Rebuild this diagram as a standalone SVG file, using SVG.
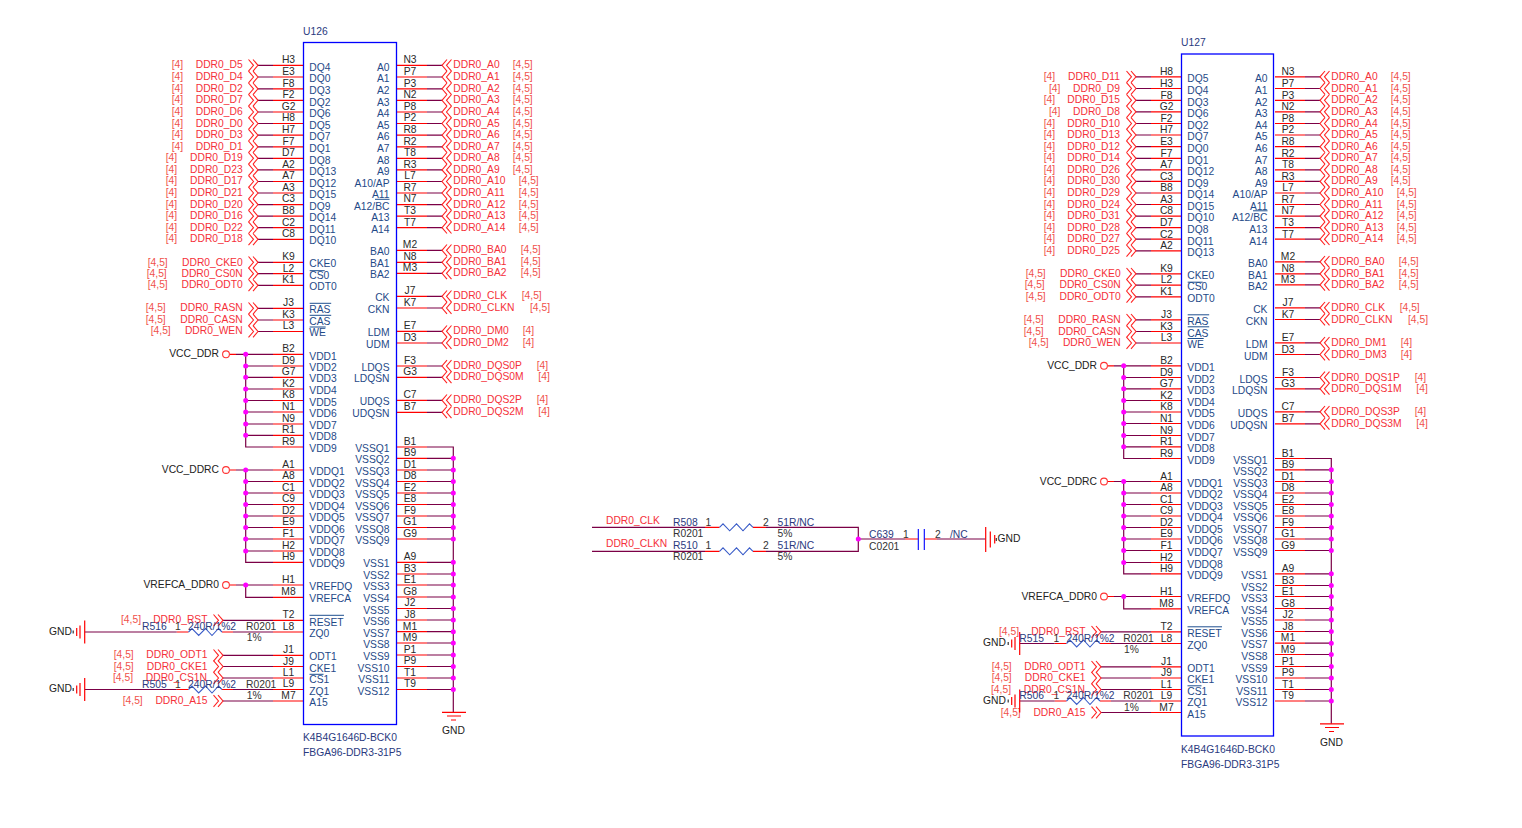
<svg xmlns="http://www.w3.org/2000/svg" width="1522" height="828" viewBox="0 0 1522 828">
<style>
text{font-family:"Liberation Sans",Arial,sans-serif;font-size:10.3px}
.w{fill:none;stroke:#7b0046;stroke-width:1.2}
.p{fill:none;stroke:#f00;stroke-width:1.2}
.box{fill:none;stroke:#00f;stroke-width:1.3}
.bar{fill:none;stroke:#1f4f8f;stroke-width:1}
.n{fill:#2a2a2a;text-anchor:middle}
.m{fill:#1f4a88}
.e{fill:#1f4a88;text-anchor:end}
.k{fill:none;stroke:#f22;stroke-width:1.1}
.a{fill:#f5303a;text-anchor:end}
.s{fill:#f5303a}
.t{fill:#f0504a}
.d{fill:#2a3a80}
.v{fill:#333}
.g{fill:#222}
.ge{fill:#222;text-anchor:end}
.z{fill:none;stroke:#3a5cc8;stroke-width:1.1}
.j{fill:none;stroke:#f0f;stroke-width:5;stroke-linecap:round}
.o{fill:#fff;stroke:#f33;stroke-width:1.1}
</style>
<defs>
<path id="cl" d="M-9.5-5.8L-4.5 0L-9.5 5.8M-5-5.8L0 0L-5 5.8"/>
<path id="cr" d="M9.5-5.8L4.5 0L9.5 5.8M5-5.8L0 0L5 5.8"/>
<path id="rz" d="M0 0L3.5-3.5L10.2 3.5L17-3.5L23.5 3.5L30-3.5L33.5 0"/>
<g id="gs"><path class="p" d="M0-11.5v23M-4.7-6.5v13M-8-4v8"/><path class="w" style="stroke:#333" d="M-11.5-1.5v3"/></g>
<g id="pinwires">
<path class="w" d="M258 65.3h15M258 77h15M258 88.8h15M258 100.3h15M258 112h15M258 123.5h15M258 135.2h15M258 146.8h15M258 158.3h15M258 169.9h15M258 181.5h15M258 193h15M258 204.6h15M258 216.2h15M258 227.7h15M258 239.3h15M258 262.3h15M258 273.7h15M258 285.3h15M258 308.3h15M258 320h15M258 331.5h15"/>
<path class="w" d="M427 65.3h15M427 77h15M427 88.8h15M427 100.3h15M427 112h15M427 123.5h15M427 135.2h15M427 146.8h15M427 158.3h15M427 169.9h15M427 181.5h15M427 193h15M427 204.6h15M427 216.2h15M427 227.7h15M427 250.3h15M427 262.3h15M427 273.3h15M427 296.3h15M427 308h15M427 331.3h15M427 343h15M427 366h15M427 377.3h15M427 400.3h15M427 412.3h15"/>
<path class="w" d="M236 354.3H273M245.7 354.3V447H273M245.7 366H273M245.7 377.3H273M245.7 389H273M245.7 400.5H273M245.7 412H273M245.7 424H273M245.7 435.3H273M236 470H273M245.7 470V562.3H273M245.7 481.5H273M245.7 493H273M245.7 504.5H273M245.7 516H273M245.7 527.5H273M245.7 539H273M245.7 551H273M236 585H273M245.7 585V597.3H273"/>
<path class="w" d="M223 620.3H273M233 632H273M223 655.3H273M223 666.5H273M223 678H273M233 689.5H273M223 701H273"/>
<path class="w" d="M427 447h26.3V712.3M427 458.3h26.3M427 470h26.3M427 481.5h26.3M427 493h26.3M427 504.5h26.3M427 516h26.3M427 527.5h26.3M427 539h26.3M427 562.3h26.3M427 574h26.3M427 585h26.3M427 597h26.3M427 608.5h26.3M427 620h26.3M427 631.7h26.3M427 643h26.3M427 655h26.3M427 666.5h26.3M427 678h26.3M427 689.5h26.3"/>
<path class="p" d="M273 65.3h30M273 77h30M273 88.8h30M273 100.3h30M273 112h30M273 123.5h30M273 135.2h30M273 146.8h30M273 158.3h30M273 169.9h30M273 181.5h30M273 193h30M273 204.6h30M273 216.2h30M273 227.7h30M273 239.3h30M273 262.3h30M273 273.7h30M273 285.3h30M273 308.3h30M273 320h30M273 331.5h30M273 354.3h30M273 366h30M273 377.3h30M273 389h30M273 400.5h30M273 412h30M273 424h30M273 435.3h30M273 447h30M273 470h30M273 481.5h30M273 493h30M273 504.5h30M273 516h30M273 527.5h30M273 539h30M273 551h30M273 562.3h30M273 585h30M273 597.3h30M273 620.3h30M273 632h30M273 655.3h30M273 666.5h30M273 678h30M273 689.5h30M273 701h30"/>
<path class="p" d="M397 65.3h30M397 77h30M397 88.8h30M397 100.3h30M397 112h30M397 123.5h30M397 135.2h30M397 146.8h30M397 158.3h30M397 169.9h30M397 181.5h30M397 193h30M397 204.6h30M397 216.2h30M397 227.7h30M397 250.3h30M397 262.3h30M397 273.3h30M397 296.3h30M397 308h30M397 331.3h30M397 343h30M397 366h30M397 377.3h30M397 400.3h30M397 412.3h30M397 447h30M397 458.3h30M397 470h30M397 481.5h30M397 493h30M397 504.5h30M397 516h30M397 527.5h30M397 539h30M397 562.3h30M397 574h30M397 585h30M397 597h30M397 608.5h30M397 620h30M397 631.7h30M397 643h30M397 655h30M397 666.5h30M397 678h30M397 689.5h30"/>
<path class="p" d="M229.4 354.3H236M229.4 470H236M229.4 585H236M176.7 632h11.8M222 632h11M176.7 689.5h11.8M222 689.5h11"/>
<path class="j" d="M245.7 354.3h0M245.7 366h0M245.7 377.3h0M245.7 389h0M245.7 400.5h0M245.7 412h0M245.7 424h0M245.7 435.3h0M245.7 470h0M245.7 481.5h0M245.7 493h0M245.7 504.5h0M245.7 516h0M245.7 527.5h0M245.7 539h0M245.7 551h0M245.7 585h0M453.3 458.3h0M453.3 470h0M453.3 481.5h0M453.3 493h0M453.3 504.5h0M453.3 516h0M453.3 527.5h0M453.3 539h0M453.3 562.3h0M453.3 574h0M453.3 585h0M453.3 597h0M453.3 608.5h0M453.3 620h0M453.3 631.7h0M453.3 643h0M453.3 655h0M453.3 666.5h0M453.3 678h0M453.3 689.5h0"/>
</g>
</defs>
<g id="connectors">
<use href="#pinwires"/>
<use href="#pinwires" x="878" y="11.5"/>
<path class="w" d="M84.7 632H176.7M84.7 689.5H176.7M1019.7 643.5H1054.7M1019.7 701H1054.7"/>
<path class="w" d="M592 527.3H705M592 551.3H705M766 527.3H858.3V551.3H766M858.3 539H905M937 539H985.7"/>
<path class="p" d="M705 527.3h14.5M705 551.3h14.5M753 527.3h13M753 551.3h13M905 539h13.3M924.3 539h12.7"/>
<path class="j" d="M858.3 539h0"/>
</g>

<g id="U126">
<rect class="box" x="303.5" y="42.5" width="93" height="682"/>
<text class="d" x="303" y="35">U126</text>
<text class="d" x="303" y="741">K4B4G1646D-BCK0</text>
<text class="d" x="303" y="756">FBGA96-DDR3-31P5</text>
<path class="bar" d="M309.7 270.7h15M309.7 303.3h21.5M309.7 315.3h21.5M309.7 327h16M309.5 615.3h34.5M309.5 674.3h14M375 199.3h14.5"/>
<text class="n" x="288.5" y="63">H3</text><text class="m" x="309.3" y="70.5">DQ4</text>
<text class="n" x="288.5" y="75">E3</text><text class="m" x="309.3" y="82">DQ0</text>
<text class="n" x="288.5" y="87">F8</text><text class="m" x="309.3" y="94">DQ3</text>
<text class="n" x="288.5" y="98">F2</text><text class="m" x="309.3" y="105.5">DQ2</text>
<text class="n" x="288.5" y="110">G2</text><text class="m" x="309.3" y="117">DQ6</text>
<text class="n" x="288.5" y="121">H8</text><text class="m" x="309.3" y="128.5">DQ5</text>
<text class="n" x="288.5" y="133">H7</text><text class="m" x="309.3" y="140">DQ7</text>
<text class="n" x="288.5" y="145">F7</text><text class="m" x="309.3" y="152">DQ1</text>
<text class="n" x="288.5" y="156">D7</text><text class="m" x="309.3" y="163.5">DQ8</text>
<text class="n" x="288.5" y="168">A2</text><text class="m" x="309.3" y="175">DQ13</text>
<text class="n" x="288.5" y="179">A7</text><text class="m" x="309.3" y="186.5">DQ12</text>
<text class="n" x="288.5" y="191">A3</text><text class="m" x="309.3" y="198">DQ15</text>
<text class="n" x="288.5" y="202">C3</text><text class="m" x="309.3" y="209.5">DQ9</text>
<text class="n" x="288.5" y="214">B8</text><text class="m" x="309.3" y="221">DQ14</text>
<text class="n" x="288.5" y="226">C2</text><text class="m" x="309.3" y="233">DQ11</text>
<text class="n" x="288.5" y="237">C8</text><text class="m" x="309.3" y="244">DQ10</text>
<text class="n" x="288.5" y="260">K9</text><text class="m" x="309.3" y="267">CKE0</text>
<text class="n" x="288.5" y="271.5">L2</text><text class="m" x="309.3" y="278.5">CS0</text>
<text class="n" x="288.5" y="283">K1</text><text class="m" x="309.3" y="290">ODT0</text>
<text class="n" x="288.5" y="306">J3</text><text class="m" x="309.3" y="313">RAS</text>
<text class="n" x="288.5" y="318">K3</text><text class="m" x="309.3" y="325">CAS</text>
<text class="n" x="288.5" y="329">L3</text><text class="m" x="309.3" y="336">WE</text>
<text class="n" x="288.5" y="352">B2</text><text class="m" x="309.3" y="359.5">VDD1</text>
<text class="n" x="288.5" y="364">D9</text><text class="m" x="309.3" y="371">VDD2</text>
<text class="n" x="288.5" y="375">G7</text><text class="m" x="309.3" y="382">VDD3</text>
<text class="n" x="288.5" y="387">K2</text><text class="m" x="309.3" y="394">VDD4</text>
<text class="n" x="288.5" y="398">K8</text><text class="m" x="309.3" y="405.5">VDD5</text>
<text class="n" x="288.5" y="410">N1</text><text class="m" x="309.3" y="417">VDD6</text>
<text class="n" x="288.5" y="422">N9</text><text class="m" x="309.3" y="429">VDD7</text>
<text class="n" x="288.5" y="433">R1</text><text class="m" x="309.3" y="440">VDD8</text>
<text class="n" x="288.5" y="445">R9</text><text class="m" x="309.3" y="452">VDD9</text>
<text class="n" x="288.5" y="468">A1</text><text class="m" x="309.3" y="475">VDDQ1</text>
<text class="n" x="288.5" y="479.3">A8</text><text class="m" x="309.3" y="486.5">VDDQ2</text>
<text class="n" x="288.5" y="491">C1</text><text class="m" x="309.3" y="498">VDDQ3</text>
<text class="n" x="288.5" y="502.3">C9</text><text class="m" x="309.3" y="509.5">VDDQ4</text>
<text class="n" x="288.5" y="514">D2</text><text class="m" x="309.3" y="521">VDDQ5</text>
<text class="n" x="288.5" y="525.3">E9</text><text class="m" x="309.3" y="532.5">VDDQ6</text>
<text class="n" x="288.5" y="537">F1</text><text class="m" x="309.3" y="544">VDDQ7</text>
<text class="n" x="288.5" y="549">H2</text><text class="m" x="309.3" y="556">VDDQ8</text>
<text class="n" x="288.5" y="560">H9</text><text class="m" x="309.3" y="567">VDDQ9</text>
<text class="n" x="288.5" y="583">H1</text><text class="m" x="309.3" y="590">VREFDQ</text>
<text class="n" x="288.5" y="595">M8</text><text class="m" x="309.3" y="602">VREFCA</text>
<text class="n" x="288.5" y="618">T2</text><text class="m" x="309.3" y="625.5">RESET</text>
<text class="n" x="288.5" y="630">L8</text><text class="m" x="309.3" y="637">ZQ0</text>
<text class="n" x="288.5" y="653">J1</text><text class="m" x="309.3" y="660">ODT1</text>
<text class="n" x="288.5" y="664.5">J9</text><text class="m" x="309.3" y="671.5">CKE1</text>
<text class="n" x="288.5" y="676">L1</text><text class="m" x="309.3" y="683">CS1</text>
<text class="n" x="288.5" y="687">L9</text><text class="m" x="309.3" y="694.5">ZQ1</text>
<text class="n" x="288.5" y="699">M7</text><text class="m" x="309.3" y="706">A15</text>
<text class="n" x="410" y="63">N3</text><text class="e" x="389.5" y="70.5">A0</text>
<text class="n" x="410" y="75">P7</text><text class="e" x="389.5" y="82">A1</text>
<text class="n" x="410" y="87">P3</text><text class="e" x="389.5" y="94">A2</text>
<text class="n" x="410" y="98">N2</text><text class="e" x="389.5" y="105.5">A3</text>
<text class="n" x="410" y="110">P8</text><text class="e" x="389.5" y="117">A4</text>
<text class="n" x="410" y="121">P2</text><text class="e" x="389.5" y="128.5">A5</text>
<text class="n" x="410" y="133">R8</text><text class="e" x="389.5" y="140">A6</text>
<text class="n" x="410" y="145">R2</text><text class="e" x="389.5" y="152">A7</text>
<text class="n" x="410" y="156">T8</text><text class="e" x="389.5" y="163.5">A8</text>
<text class="n" x="410" y="168">R3</text><text class="e" x="389.5" y="175">A9</text>
<text class="n" x="410" y="179">L7</text><text class="e" x="389.5" y="186.5">A10/AP</text>
<text class="n" x="410" y="191">R7</text><text class="e" x="389.5" y="198">A11</text>
<text class="n" x="410" y="202">N7</text><text class="e" x="389.5" y="209.5">A12/BC</text>
<text class="n" x="410" y="214">T3</text><text class="e" x="389.5" y="221">A13</text>
<text class="n" x="410" y="226">T7</text><text class="e" x="389.5" y="233">A14</text>
<text class="n" x="410" y="248">M2</text><text class="e" x="389.5" y="255">BA0</text>
<text class="n" x="410" y="260">N8</text><text class="e" x="389.5" y="267">BA1</text>
<text class="n" x="410" y="271">M3</text><text class="e" x="389.5" y="278">BA2</text>
<text class="n" x="410" y="294">J7</text><text class="e" x="389.5" y="301">CK</text>
<text class="n" x="410" y="306">K7</text><text class="e" x="389.5" y="313">CKN</text>
<text class="n" x="410" y="329">E7</text><text class="e" x="389.5" y="336">LDM</text>
<text class="n" x="410" y="341">D3</text><text class="e" x="389.5" y="348">UDM</text>
<text class="n" x="410" y="364">F3</text><text class="e" x="389.5" y="371">LDQS</text>
<text class="n" x="410" y="375">G3</text><text class="e" x="389.5" y="382">LDQSN</text>
<text class="n" x="410" y="398">C7</text><text class="e" x="389.5" y="405">UDQS</text>
<text class="n" x="410" y="410">B7</text><text class="e" x="389.5" y="417">UDQSN</text>
<text class="n" x="410" y="445">B1</text><text class="e" x="389.5" y="452">VSSQ1</text>
<text class="n" x="410" y="456">B9</text><text class="e" x="389.5" y="463.3">VSSQ2</text>
<text class="n" x="410" y="468">D1</text><text class="e" x="389.5" y="475">VSSQ3</text>
<text class="n" x="410" y="479.3">D8</text><text class="e" x="389.5" y="486.5">VSSQ4</text>
<text class="n" x="410" y="491">E2</text><text class="e" x="389.5" y="498">VSSQ5</text>
<text class="n" x="410" y="502.3">E8</text><text class="e" x="389.5" y="509.5">VSSQ6</text>
<text class="n" x="410" y="514">F9</text><text class="e" x="389.5" y="521">VSSQ7</text>
<text class="n" x="410" y="525.3">G1</text><text class="e" x="389.5" y="532.5">VSSQ8</text>
<text class="n" x="410" y="537">G9</text><text class="e" x="389.5" y="544">VSSQ9</text>
<text class="n" x="410" y="560">A9</text><text class="e" x="389.5" y="567">VSS1</text>
<text class="n" x="410" y="572">B3</text><text class="e" x="389.5" y="579">VSS2</text>
<text class="n" x="410" y="583">E1</text><text class="e" x="389.5" y="590">VSS3</text>
<text class="n" x="410" y="595">G8</text><text class="e" x="389.5" y="602">VSS4</text>
<text class="n" x="410" y="606">J2</text><text class="e" x="389.5" y="613.5">VSS5</text>
<text class="n" x="410" y="618">J8</text><text class="e" x="389.5" y="625">VSS6</text>
<text class="n" x="410" y="629.5">M1</text><text class="e" x="389.5" y="636.5">VSS7</text>
<text class="n" x="410" y="641">M9</text><text class="e" x="389.5" y="648">VSS8</text>
<text class="n" x="410" y="653">P1</text><text class="e" x="389.5" y="660">VSS9</text>
<text class="n" x="410" y="664.3">P9</text><text class="e" x="389.5" y="671.5">VSS10</text>
<text class="n" x="410" y="676">T1</text><text class="e" x="389.5" y="683">VSS11</text>
<text class="n" x="410" y="687.3">T9</text><text class="e" x="389.5" y="694.5">VSS12</text>
</g>

<g id="nets-U126">
<g id="A_D5"><use class="k" href="#cl" x="258" y="65.3"/><text class="a" x="242.7" y="68">DDR0_D5</text><text class="t" x="171.7" y="68">[4]</text></g>
<g id="A_D4"><use class="k" href="#cl" x="258" y="77"/><text class="a" x="242.7" y="80">DDR0_D4</text><text class="t" x="171.7" y="80">[4]</text></g>
<g id="A_D2"><use class="k" href="#cl" x="258" y="88.8"/><text class="a" x="242.7" y="91.5">DDR0_D2</text><text class="t" x="171.7" y="91.5">[4]</text></g>
<g id="A_D7"><use class="k" href="#cl" x="258" y="100.3"/><text class="a" x="242.7" y="103">DDR0_D7</text><text class="t" x="171.7" y="103">[4]</text></g>
<g id="A_D6"><use class="k" href="#cl" x="258" y="112"/><text class="a" x="242.7" y="115">DDR0_D6</text><text class="t" x="171.7" y="115">[4]</text></g>
<g id="A_D0"><use class="k" href="#cl" x="258" y="123.5"/><text class="a" x="242.7" y="126.5">DDR0_D0</text><text class="t" x="171.7" y="126.5">[4]</text></g>
<g id="A_D3"><use class="k" href="#cl" x="258" y="135.2"/><text class="a" x="242.7" y="138">DDR0_D3</text><text class="t" x="171.7" y="138">[4]</text></g>
<g id="A_D1"><use class="k" href="#cl" x="258" y="146.8"/><text class="a" x="242.7" y="149.5">DDR0_D1</text><text class="t" x="171.7" y="149.5">[4]</text></g>
<g id="A_D19"><use class="k" href="#cl" x="258" y="158.3"/><text class="a" x="242.7" y="161">DDR0_D19</text><text class="t" x="165.7" y="161">[4]</text></g>
<g id="A_D23"><use class="k" href="#cl" x="258" y="169.9"/><text class="a" x="242.7" y="172.5">DDR0_D23</text><text class="t" x="165.7" y="172.5">[4]</text></g>
<g id="A_D17"><use class="k" href="#cl" x="258" y="181.5"/><text class="a" x="242.7" y="184">DDR0_D17</text><text class="t" x="165.7" y="184">[4]</text></g>
<g id="A_D21"><use class="k" href="#cl" x="258" y="193"/><text class="a" x="242.7" y="196">DDR0_D21</text><text class="t" x="165.7" y="196">[4]</text></g>
<g id="A_D20"><use class="k" href="#cl" x="258" y="204.6"/><text class="a" x="242.7" y="207.5">DDR0_D20</text><text class="t" x="165.7" y="207.5">[4]</text></g>
<g id="A_D16"><use class="k" href="#cl" x="258" y="216.2"/><text class="a" x="242.7" y="219">DDR0_D16</text><text class="t" x="165.7" y="219">[4]</text></g>
<g id="A_D22"><use class="k" href="#cl" x="258" y="227.7"/><text class="a" x="242.7" y="230.5">DDR0_D22</text><text class="t" x="165.7" y="230.5">[4]</text></g>
<g id="A_D18"><use class="k" href="#cl" x="258" y="239.3"/><text class="a" x="242.7" y="242">DDR0_D18</text><text class="t" x="165.7" y="242">[4]</text></g>
<g id="A_CKE0"><use class="k" href="#cl" x="258" y="262.3"/><text class="a" x="242.7" y="265.5">DDR0_CKE0</text><text class="t" x="147.7" y="265.5">[4,5]</text></g>
<g id="A_CS0N"><use class="k" href="#cl" x="258" y="273.7"/><text class="a" x="242.7" y="276.5">DDR0_CS0N</text><text class="t" x="146.7" y="276.5">[4,5]</text></g>
<g id="A_ODT0"><use class="k" href="#cl" x="258" y="285.3"/><text class="a" x="242.7" y="288">DDR0_ODT0</text><text class="t" x="147.7" y="288">[4,5]</text></g>
<g id="A_RASN"><use class="k" href="#cl" x="258" y="308.3"/><text class="a" x="242.7" y="311">DDR0_RASN</text><text class="t" x="145.7" y="311">[4,5]</text></g>
<g id="A_CASN"><use class="k" href="#cl" x="258" y="320"/><text class="a" x="242.7" y="323">DDR0_CASN</text><text class="t" x="145.7" y="323">[4,5]</text></g>
<g id="A_WEN"><use class="k" href="#cl" x="258" y="331.5"/><text class="a" x="242.7" y="334">DDR0_WEN</text><text class="t" x="150.7" y="334">[4,5]</text></g>
<g id="A_RST"><use class="k" href="#cl" x="223" y="620.3"/><text class="a" x="207.5" y="623">DDR0_RST</text><text class="t" x="121" y="623">[4,5]</text></g>
<g id="A_ODT1"><use class="k" href="#cl" x="223" y="655.3"/><text class="a" x="207.5" y="658">DDR0_ODT1</text><text class="t" x="113.7" y="658">[4,5]</text></g>
<g id="A_CKE1"><use class="k" href="#cl" x="223" y="666.5"/><text class="a" x="207.5" y="669.5">DDR0_CKE1</text><text class="t" x="113.7" y="669.5">[4,5]</text></g>
<g id="A_CS1N"><use class="k" href="#cl" x="223" y="678"/><text class="a" x="207" y="681">DDR0_CS1N</text><text class="t" x="113" y="681">[4,5]</text></g>
<g id="A_A15"><use class="k" href="#cl" x="223" y="701"/><text class="a" x="207.5" y="704">DDR0_A15</text><text class="t" x="122.7" y="704">[4,5]</text></g>
<g id="A_A0"><use class="k" href="#cr" x="442" y="65.3"/><text class="s" x="453.3" y="68">DDR0_A0</text><text class="t" x="512.7" y="68">[4,5]</text></g>
<g id="A_A1"><use class="k" href="#cr" x="442" y="77"/><text class="s" x="453.3" y="80">DDR0_A1</text><text class="t" x="512.7" y="80">[4,5]</text></g>
<g id="A_A2"><use class="k" href="#cr" x="442" y="88.8"/><text class="s" x="453.3" y="91.5">DDR0_A2</text><text class="t" x="512.7" y="91.5">[4,5]</text></g>
<g id="A_A3"><use class="k" href="#cr" x="442" y="100.3"/><text class="s" x="453.3" y="103">DDR0_A3</text><text class="t" x="512.7" y="103">[4,5]</text></g>
<g id="A_A4"><use class="k" href="#cr" x="442" y="112"/><text class="s" x="453.3" y="115">DDR0_A4</text><text class="t" x="512.7" y="115">[4,5]</text></g>
<g id="A_A5"><use class="k" href="#cr" x="442" y="123.5"/><text class="s" x="453.3" y="126.5">DDR0_A5</text><text class="t" x="512.7" y="126.5">[4,5]</text></g>
<g id="A_A6"><use class="k" href="#cr" x="442" y="135.2"/><text class="s" x="453.3" y="138">DDR0_A6</text><text class="t" x="512.7" y="138">[4,5]</text></g>
<g id="A_A7"><use class="k" href="#cr" x="442" y="146.8"/><text class="s" x="453.3" y="149.5">DDR0_A7</text><text class="t" x="512.7" y="149.5">[4,5]</text></g>
<g id="A_A8"><use class="k" href="#cr" x="442" y="158.3"/><text class="s" x="453.3" y="161">DDR0_A8</text><text class="t" x="512.7" y="161">[4,5]</text></g>
<g id="A_A9"><use class="k" href="#cr" x="442" y="169.9"/><text class="s" x="453.3" y="172.5">DDR0_A9</text><text class="t" x="512.7" y="172.5">[4,5]</text></g>
<g id="A_A10"><use class="k" href="#cr" x="442" y="181.5"/><text class="s" x="453.3" y="184">DDR0_A10</text><text class="t" x="518.7" y="184">[4,5]</text></g>
<g id="A_A11"><use class="k" href="#cr" x="442" y="193"/><text class="s" x="453.3" y="196">DDR0_A11</text><text class="t" x="518.7" y="196">[4,5]</text></g>
<g id="A_A12"><use class="k" href="#cr" x="442" y="204.6"/><text class="s" x="453.3" y="207.5">DDR0_A12</text><text class="t" x="518.7" y="207.5">[4,5]</text></g>
<g id="A_A13"><use class="k" href="#cr" x="442" y="216.2"/><text class="s" x="453.3" y="219">DDR0_A13</text><text class="t" x="518.7" y="219">[4,5]</text></g>
<g id="A_A14"><use class="k" href="#cr" x="442" y="227.7"/><text class="s" x="453.3" y="230.5">DDR0_A14</text><text class="t" x="518.7" y="230.5">[4,5]</text></g>
<g id="A_BA0"><use class="k" href="#cr" x="442" y="250.3"/><text class="s" x="453.3" y="253">DDR0_BA0</text><text class="t" x="520.7" y="253">[4,5]</text></g>
<g id="A_BA1"><use class="k" href="#cr" x="442" y="262.3"/><text class="s" x="453.3" y="265">DDR0_BA1</text><text class="t" x="520.7" y="265">[4,5]</text></g>
<g id="A_BA2"><use class="k" href="#cr" x="442" y="273.3"/><text class="s" x="453.3" y="276">DDR0_BA2</text><text class="t" x="520.7" y="276">[4,5]</text></g>
<g id="A_CLK"><use class="k" href="#cr" x="442" y="296.3"/><text class="s" x="453.3" y="299">DDR0_CLK</text><text class="t" x="521.7" y="299">[4,5]</text></g>
<g id="A_CLKN"><use class="k" href="#cr" x="442" y="308"/><text class="s" x="453.3" y="311">DDR0_CLKN</text><text class="t" x="530" y="311">[4,5]</text></g>
<g id="A_DM0"><use class="k" href="#cr" x="442" y="331.3"/><text class="s" x="453.3" y="334">DDR0_DM0</text><text class="t" x="522.7" y="334">[4]</text></g>
<g id="A_DM2"><use class="k" href="#cr" x="442" y="343"/><text class="s" x="453.3" y="346">DDR0_DM2</text><text class="t" x="522.7" y="346">[4]</text></g>
<g id="A_DQS0P"><use class="k" href="#cr" x="442" y="366"/><text class="s" x="453.3" y="369">DDR0_DQS0P</text><text class="t" x="536.7" y="369">[4]</text></g>
<g id="A_DQS0M"><use class="k" href="#cr" x="442" y="377.3"/><text class="s" x="453.3" y="380">DDR0_DQS0M</text><text class="t" x="538.3" y="380">[4]</text></g>
<g id="A_DQS2P"><use class="k" href="#cr" x="442" y="400.3"/><text class="s" x="453.3" y="403">DDR0_DQS2P</text><text class="t" x="536.7" y="403">[4]</text></g>
<g id="A_DQS2M"><use class="k" href="#cr" x="442" y="412.3"/><text class="s" x="453.3" y="415">DDR0_DQS2M</text><text class="t" x="538.3" y="415">[4]</text></g>
<g id="A_VCC_DDR"><circle class="o" cx="226" cy="354.3" r="3.4"/><text class="ge" x="219" y="357">VCC_DDR</text></g>
<g id="A_VCC_DDRC"><circle class="o" cx="226" cy="470" r="3.4"/><text class="ge" x="219" y="473">VCC_DDRC</text></g>
<g id="A_VREFCA"><circle class="o" cx="226" cy="585" r="3.4"/><text class="ge" x="219" y="588">VREFCA_DDR0</text></g>
<g id="A_GND3"><path class="p" d="M442 712.3h24M447 716h14M451 720h5"/><text class="g" x="442" y="734">GND</text></g>
<g id="A_GND1"><use href="#gs" x="84.7" y="632"/><text class="ge" x="72" y="634.5">GND</text></g>
<g id="A_GND2"><use href="#gs" x="84.7" y="689.5"/><text class="ge" x="72" y="692">GND</text></g>
<g id="R516"><use class="z" href="#rz" x="188.5" y="632"/><text class="d" x="142" y="630">R516</text><text class="v" x="175" y="630">1</text><text class="d" x="188" y="630">240R/1%2</text><text class="v" x="246" y="630">R0201</text><text class="v" x="246.7" y="641">1%</text></g>
<g id="R505"><use class="z" href="#rz" x="188.5" y="689.5"/><text class="d" x="142" y="687.5">R505</text><text class="v" x="175" y="687.5">1</text><text class="d" x="188" y="687.5">240R/1%2</text><text class="v" x="246" y="687.5">R0201</text><text class="v" x="246.7" y="699">1%</text></g>
</g>

<g id="U127-side" transform="translate(878 11.5)">
<g id="U127">
<rect class="box" x="303.5" y="42.5" width="92" height="682"/>
<text class="d" x="303" y="34.5">U127</text>
<text class="d" x="303" y="741">K4B4G1646D-BCK0</text>
<text class="d" x="303" y="756">FBGA96-DDR3-31P5</text>
<path class="bar" d="M309.7 270.7h15M309.7 303.3h21.5M309.7 315.3h21.5M309.7 327h16M309.5 615.3h34.5M309.5 674.3h14M375 199.3h14.5"/>
<text class="n" x="288.5" y="63">H8</text><text class="m" x="309.3" y="70.5">DQ5</text>
<text class="n" x="288.5" y="75">H3</text><text class="m" x="309.3" y="82">DQ4</text>
<text class="n" x="288.5" y="87">F8</text><text class="m" x="309.3" y="94">DQ3</text>
<text class="n" x="288.5" y="98">G2</text><text class="m" x="309.3" y="105.5">DQ6</text>
<text class="n" x="288.5" y="110">F2</text><text class="m" x="309.3" y="117">DQ2</text>
<text class="n" x="288.5" y="121">H7</text><text class="m" x="309.3" y="128.5">DQ7</text>
<text class="n" x="288.5" y="133">E3</text><text class="m" x="309.3" y="140">DQ0</text>
<text class="n" x="288.5" y="145">F7</text><text class="m" x="309.3" y="152">DQ1</text>
<text class="n" x="288.5" y="156">A7</text><text class="m" x="309.3" y="163.5">DQ12</text>
<text class="n" x="288.5" y="168">C3</text><text class="m" x="309.3" y="175">DQ9</text>
<text class="n" x="288.5" y="179">B8</text><text class="m" x="309.3" y="186.5">DQ14</text>
<text class="n" x="288.5" y="191">A3</text><text class="m" x="309.3" y="198">DQ15</text>
<text class="n" x="288.5" y="202">C8</text><text class="m" x="309.3" y="209.5">DQ10</text>
<text class="n" x="288.5" y="214">D7</text><text class="m" x="309.3" y="221">DQ8</text>
<text class="n" x="288.5" y="226">C2</text><text class="m" x="309.3" y="233">DQ11</text>
<text class="n" x="288.5" y="237">A2</text><text class="m" x="309.3" y="244">DQ13</text>
<text class="n" x="288.5" y="260">K9</text><text class="m" x="309.3" y="267">CKE0</text>
<text class="n" x="288.5" y="271.5">L2</text><text class="m" x="309.3" y="278.5">CS0</text>
<text class="n" x="288.5" y="283">K1</text><text class="m" x="309.3" y="290">ODT0</text>
<text class="n" x="288.5" y="306">J3</text><text class="m" x="309.3" y="313">RAS</text>
<text class="n" x="288.5" y="318">K3</text><text class="m" x="309.3" y="325">CAS</text>
<text class="n" x="288.5" y="329">L3</text><text class="m" x="309.3" y="336">WE</text>
<text class="n" x="288.5" y="352">B2</text><text class="m" x="309.3" y="359.5">VDD1</text>
<text class="n" x="288.5" y="364">D9</text><text class="m" x="309.3" y="371">VDD2</text>
<text class="n" x="288.5" y="375">G7</text><text class="m" x="309.3" y="382">VDD3</text>
<text class="n" x="288.5" y="387">K2</text><text class="m" x="309.3" y="394">VDD4</text>
<text class="n" x="288.5" y="398">K8</text><text class="m" x="309.3" y="405.5">VDD5</text>
<text class="n" x="288.5" y="410">N1</text><text class="m" x="309.3" y="417">VDD6</text>
<text class="n" x="288.5" y="422">N9</text><text class="m" x="309.3" y="429">VDD7</text>
<text class="n" x="288.5" y="433">R1</text><text class="m" x="309.3" y="440">VDD8</text>
<text class="n" x="288.5" y="445">R9</text><text class="m" x="309.3" y="452">VDD9</text>
<text class="n" x="288.5" y="468">A1</text><text class="m" x="309.3" y="475">VDDQ1</text>
<text class="n" x="288.5" y="479.3">A8</text><text class="m" x="309.3" y="486.5">VDDQ2</text>
<text class="n" x="288.5" y="491">C1</text><text class="m" x="309.3" y="498">VDDQ3</text>
<text class="n" x="288.5" y="502.3">C9</text><text class="m" x="309.3" y="509.5">VDDQ4</text>
<text class="n" x="288.5" y="514">D2</text><text class="m" x="309.3" y="521">VDDQ5</text>
<text class="n" x="288.5" y="525.3">E9</text><text class="m" x="309.3" y="532.5">VDDQ6</text>
<text class="n" x="288.5" y="537">F1</text><text class="m" x="309.3" y="544">VDDQ7</text>
<text class="n" x="288.5" y="549">H2</text><text class="m" x="309.3" y="556">VDDQ8</text>
<text class="n" x="288.5" y="560">H9</text><text class="m" x="309.3" y="567">VDDQ9</text>
<text class="n" x="288.5" y="583">H1</text><text class="m" x="309.3" y="590">VREFDQ</text>
<text class="n" x="288.5" y="595">M8</text><text class="m" x="309.3" y="602">VREFCA</text>
<text class="n" x="288.5" y="618">T2</text><text class="m" x="309.3" y="625.5">RESET</text>
<text class="n" x="288.5" y="630">L8</text><text class="m" x="309.3" y="637">ZQ0</text>
<text class="n" x="288.5" y="653">J1</text><text class="m" x="309.3" y="660">ODT1</text>
<text class="n" x="288.5" y="664.5">J9</text><text class="m" x="309.3" y="671.5">CKE1</text>
<text class="n" x="288.5" y="676">L1</text><text class="m" x="309.3" y="683">CS1</text>
<text class="n" x="288.5" y="687">L9</text><text class="m" x="309.3" y="694.5">ZQ1</text>
<text class="n" x="288.5" y="699">M7</text><text class="m" x="309.3" y="706">A15</text>
<text class="n" x="410" y="63">N3</text><text class="e" x="389.5" y="70.5">A0</text>
<text class="n" x="410" y="75">P7</text><text class="e" x="389.5" y="82">A1</text>
<text class="n" x="410" y="87">P3</text><text class="e" x="389.5" y="94">A2</text>
<text class="n" x="410" y="98">N2</text><text class="e" x="389.5" y="105.5">A3</text>
<text class="n" x="410" y="110">P8</text><text class="e" x="389.5" y="117">A4</text>
<text class="n" x="410" y="121">P2</text><text class="e" x="389.5" y="128.5">A5</text>
<text class="n" x="410" y="133">R8</text><text class="e" x="389.5" y="140">A6</text>
<text class="n" x="410" y="145">R2</text><text class="e" x="389.5" y="152">A7</text>
<text class="n" x="410" y="156">T8</text><text class="e" x="389.5" y="163.5">A8</text>
<text class="n" x="410" y="168">R3</text><text class="e" x="389.5" y="175">A9</text>
<text class="n" x="410" y="179">L7</text><text class="e" x="389.5" y="186.5">A10/AP</text>
<text class="n" x="410" y="191">R7</text><text class="e" x="389.5" y="198">A11</text>
<text class="n" x="410" y="202">N7</text><text class="e" x="389.5" y="209.5">A12/BC</text>
<text class="n" x="410" y="214">T3</text><text class="e" x="389.5" y="221">A13</text>
<text class="n" x="410" y="226">T7</text><text class="e" x="389.5" y="233">A14</text>
<text class="n" x="410" y="248">M2</text><text class="e" x="389.5" y="255">BA0</text>
<text class="n" x="410" y="260">N8</text><text class="e" x="389.5" y="267">BA1</text>
<text class="n" x="410" y="271">M3</text><text class="e" x="389.5" y="278">BA2</text>
<text class="n" x="410" y="294">J7</text><text class="e" x="389.5" y="301">CK</text>
<text class="n" x="410" y="306">K7</text><text class="e" x="389.5" y="313">CKN</text>
<text class="n" x="410" y="329">E7</text><text class="e" x="389.5" y="336">LDM</text>
<text class="n" x="410" y="341">D3</text><text class="e" x="389.5" y="348">UDM</text>
<text class="n" x="410" y="364">F3</text><text class="e" x="389.5" y="371">LDQS</text>
<text class="n" x="410" y="375">G3</text><text class="e" x="389.5" y="382">LDQSN</text>
<text class="n" x="410" y="398">C7</text><text class="e" x="389.5" y="405">UDQS</text>
<text class="n" x="410" y="410">B7</text><text class="e" x="389.5" y="417">UDQSN</text>
<text class="n" x="410" y="445">B1</text><text class="e" x="389.5" y="452">VSSQ1</text>
<text class="n" x="410" y="456">B9</text><text class="e" x="389.5" y="463.3">VSSQ2</text>
<text class="n" x="410" y="468">D1</text><text class="e" x="389.5" y="475">VSSQ3</text>
<text class="n" x="410" y="479.3">D8</text><text class="e" x="389.5" y="486.5">VSSQ4</text>
<text class="n" x="410" y="491">E2</text><text class="e" x="389.5" y="498">VSSQ5</text>
<text class="n" x="410" y="502.3">E8</text><text class="e" x="389.5" y="509.5">VSSQ6</text>
<text class="n" x="410" y="514">F9</text><text class="e" x="389.5" y="521">VSSQ7</text>
<text class="n" x="410" y="525.3">G1</text><text class="e" x="389.5" y="532.5">VSSQ8</text>
<text class="n" x="410" y="537">G9</text><text class="e" x="389.5" y="544">VSSQ9</text>
<text class="n" x="410" y="560">A9</text><text class="e" x="389.5" y="567">VSS1</text>
<text class="n" x="410" y="572">B3</text><text class="e" x="389.5" y="579">VSS2</text>
<text class="n" x="410" y="583">E1</text><text class="e" x="389.5" y="590">VSS3</text>
<text class="n" x="410" y="595">G8</text><text class="e" x="389.5" y="602">VSS4</text>
<text class="n" x="410" y="606">J2</text><text class="e" x="389.5" y="613.5">VSS5</text>
<text class="n" x="410" y="618">J8</text><text class="e" x="389.5" y="625">VSS6</text>
<text class="n" x="410" y="629.5">M1</text><text class="e" x="389.5" y="636.5">VSS7</text>
<text class="n" x="410" y="641">M9</text><text class="e" x="389.5" y="648">VSS8</text>
<text class="n" x="410" y="653">P1</text><text class="e" x="389.5" y="660">VSS9</text>
<text class="n" x="410" y="664.3">P9</text><text class="e" x="389.5" y="671.5">VSS10</text>
<text class="n" x="410" y="676">T1</text><text class="e" x="389.5" y="683">VSS11</text>
<text class="n" x="410" y="687.3">T9</text><text class="e" x="389.5" y="694.5">VSS12</text>
</g>
<g id="nets-U127">
<g id="B_D11"><use class="k" href="#cl" x="258" y="65.3"/><text class="a" x="242" y="68">DDR0_D11</text><text class="t" x="165.7" y="68">[4]</text></g>
<g id="B_D9"><use class="k" href="#cl" x="258" y="77"/><text class="a" x="242" y="80">DDR0_D9</text><text class="t" x="171" y="80">[4]</text></g>
<g id="B_D15"><use class="k" href="#cl" x="258" y="88.8"/><text class="a" x="242" y="91.5">DDR0_D15</text><text class="t" x="165.7" y="91.5">[4]</text></g>
<g id="B_D8"><use class="k" href="#cl" x="258" y="100.3"/><text class="a" x="242" y="103">DDR0_D8</text><text class="t" x="171" y="103">[4]</text></g>
<g id="B_D10"><use class="k" href="#cl" x="258" y="112"/><text class="a" x="242" y="115">DDR0_D10</text><text class="t" x="165.7" y="115">[4]</text></g>
<g id="B_D13"><use class="k" href="#cl" x="258" y="123.5"/><text class="a" x="242" y="126.5">DDR0_D13</text><text class="t" x="165.7" y="126.5">[4]</text></g>
<g id="B_D12"><use class="k" href="#cl" x="258" y="135.2"/><text class="a" x="242" y="138">DDR0_D12</text><text class="t" x="165.7" y="138">[4]</text></g>
<g id="B_D14"><use class="k" href="#cl" x="258" y="146.8"/><text class="a" x="242" y="149.5">DDR0_D14</text><text class="t" x="165.7" y="149.5">[4]</text></g>
<g id="B_D26"><use class="k" href="#cl" x="258" y="158.3"/><text class="a" x="242" y="161">DDR0_D26</text><text class="t" x="165.7" y="161">[4]</text></g>
<g id="B_D30"><use class="k" href="#cl" x="258" y="169.9"/><text class="a" x="242" y="172.5">DDR0_D30</text><text class="t" x="165.7" y="172.5">[4]</text></g>
<g id="B_D29"><use class="k" href="#cl" x="258" y="181.5"/><text class="a" x="242" y="184">DDR0_D29</text><text class="t" x="165.7" y="184">[4]</text></g>
<g id="B_D24"><use class="k" href="#cl" x="258" y="193"/><text class="a" x="242" y="196">DDR0_D24</text><text class="t" x="165.7" y="196">[4]</text></g>
<g id="B_D31"><use class="k" href="#cl" x="258" y="204.6"/><text class="a" x="242" y="207.5">DDR0_D31</text><text class="t" x="165.7" y="207.5">[4]</text></g>
<g id="B_D28"><use class="k" href="#cl" x="258" y="216.2"/><text class="a" x="242" y="219">DDR0_D28</text><text class="t" x="165.7" y="219">[4]</text></g>
<g id="B_D27"><use class="k" href="#cl" x="258" y="227.7"/><text class="a" x="242" y="230.5">DDR0_D27</text><text class="t" x="165.7" y="230.5">[4]</text></g>
<g id="B_D25"><use class="k" href="#cl" x="258" y="239.3"/><text class="a" x="242" y="242">DDR0_D25</text><text class="t" x="165.7" y="242">[4]</text></g>
<g id="B_CKE0"><use class="k" href="#cl" x="258" y="262.3"/><text class="a" x="242.7" y="265.5">DDR0_CKE0</text><text class="t" x="147.7" y="265.5">[4,5]</text></g>
<g id="B_CS0N"><use class="k" href="#cl" x="258" y="273.7"/><text class="a" x="242.7" y="276.5">DDR0_CS0N</text><text class="t" x="146.7" y="276.5">[4,5]</text></g>
<g id="B_ODT0"><use class="k" href="#cl" x="258" y="285.3"/><text class="a" x="242.7" y="288">DDR0_ODT0</text><text class="t" x="147.7" y="288">[4,5]</text></g>
<g id="B_RASN"><use class="k" href="#cl" x="258" y="308.3"/><text class="a" x="242.7" y="311">DDR0_RASN</text><text class="t" x="145.7" y="311">[4,5]</text></g>
<g id="B_CASN"><use class="k" href="#cl" x="258" y="320"/><text class="a" x="242.7" y="323">DDR0_CASN</text><text class="t" x="145.7" y="323">[4,5]</text></g>
<g id="B_WEN"><use class="k" href="#cl" x="258" y="331.5"/><text class="a" x="242.7" y="334">DDR0_WEN</text><text class="t" x="150.7" y="334">[4,5]</text></g>
<g id="B_RST"><use class="k" href="#cl" x="223" y="620.3"/><text class="a" x="207.5" y="623">DDR0_RST</text><text class="t" x="121" y="623">[4,5]</text></g>
<g id="B_ODT1"><use class="k" href="#cl" x="223" y="655.3"/><text class="a" x="207.5" y="658">DDR0_ODT1</text><text class="t" x="113.7" y="658">[4,5]</text></g>
<g id="B_CKE1"><use class="k" href="#cl" x="223" y="666.5"/><text class="a" x="207.5" y="669.5">DDR0_CKE1</text><text class="t" x="113.7" y="669.5">[4,5]</text></g>
<g id="B_CS1N"><use class="k" href="#cl" x="223" y="678"/><text class="a" x="207" y="681">DDR0_CS1N</text><text class="t" x="113" y="681">[4,5]</text></g>
<g id="B_A15"><use class="k" href="#cl" x="223" y="701"/><text class="a" x="207.5" y="704">DDR0_A15</text><text class="t" x="122.7" y="704">[4,5]</text></g>
<g id="B_A0"><use class="k" href="#cr" x="442" y="65.3"/><text class="s" x="453.3" y="68">DDR0_A0</text><text class="t" x="512.7" y="68">[4,5]</text></g>
<g id="B_A1"><use class="k" href="#cr" x="442" y="77"/><text class="s" x="453.3" y="80">DDR0_A1</text><text class="t" x="512.7" y="80">[4,5]</text></g>
<g id="B_A2"><use class="k" href="#cr" x="442" y="88.8"/><text class="s" x="453.3" y="91.5">DDR0_A2</text><text class="t" x="512.7" y="91.5">[4,5]</text></g>
<g id="B_A3"><use class="k" href="#cr" x="442" y="100.3"/><text class="s" x="453.3" y="103">DDR0_A3</text><text class="t" x="512.7" y="103">[4,5]</text></g>
<g id="B_A4"><use class="k" href="#cr" x="442" y="112"/><text class="s" x="453.3" y="115">DDR0_A4</text><text class="t" x="512.7" y="115">[4,5]</text></g>
<g id="B_A5"><use class="k" href="#cr" x="442" y="123.5"/><text class="s" x="453.3" y="126.5">DDR0_A5</text><text class="t" x="512.7" y="126.5">[4,5]</text></g>
<g id="B_A6"><use class="k" href="#cr" x="442" y="135.2"/><text class="s" x="453.3" y="138">DDR0_A6</text><text class="t" x="512.7" y="138">[4,5]</text></g>
<g id="B_A7"><use class="k" href="#cr" x="442" y="146.8"/><text class="s" x="453.3" y="149.5">DDR0_A7</text><text class="t" x="512.7" y="149.5">[4,5]</text></g>
<g id="B_A8"><use class="k" href="#cr" x="442" y="158.3"/><text class="s" x="453.3" y="161">DDR0_A8</text><text class="t" x="512.7" y="161">[4,5]</text></g>
<g id="B_A9"><use class="k" href="#cr" x="442" y="169.9"/><text class="s" x="453.3" y="172.5">DDR0_A9</text><text class="t" x="512.7" y="172.5">[4,5]</text></g>
<g id="B_A10"><use class="k" href="#cr" x="442" y="181.5"/><text class="s" x="453.3" y="184">DDR0_A10</text><text class="t" x="518.7" y="184">[4,5]</text></g>
<g id="B_A11"><use class="k" href="#cr" x="442" y="193"/><text class="s" x="453.3" y="196">DDR0_A11</text><text class="t" x="518.7" y="196">[4,5]</text></g>
<g id="B_A12"><use class="k" href="#cr" x="442" y="204.6"/><text class="s" x="453.3" y="207.5">DDR0_A12</text><text class="t" x="518.7" y="207.5">[4,5]</text></g>
<g id="B_A13"><use class="k" href="#cr" x="442" y="216.2"/><text class="s" x="453.3" y="219">DDR0_A13</text><text class="t" x="518.7" y="219">[4,5]</text></g>
<g id="B_A14"><use class="k" href="#cr" x="442" y="227.7"/><text class="s" x="453.3" y="230.5">DDR0_A14</text><text class="t" x="518.7" y="230.5">[4,5]</text></g>
<g id="B_BA0"><use class="k" href="#cr" x="442" y="250.3"/><text class="s" x="453.3" y="253">DDR0_BA0</text><text class="t" x="520.7" y="253">[4,5]</text></g>
<g id="B_BA1"><use class="k" href="#cr" x="442" y="262.3"/><text class="s" x="453.3" y="265">DDR0_BA1</text><text class="t" x="520.7" y="265">[4,5]</text></g>
<g id="B_BA2"><use class="k" href="#cr" x="442" y="273.3"/><text class="s" x="453.3" y="276">DDR0_BA2</text><text class="t" x="520.7" y="276">[4,5]</text></g>
<g id="B_CLK"><use class="k" href="#cr" x="442" y="296.3"/><text class="s" x="453.3" y="299">DDR0_CLK</text><text class="t" x="521.7" y="299">[4,5]</text></g>
<g id="B_CLKN"><use class="k" href="#cr" x="442" y="308"/><text class="s" x="453.3" y="311">DDR0_CLKN</text><text class="t" x="530" y="311">[4,5]</text></g>
<g id="B_DM1"><use class="k" href="#cr" x="442" y="331.3"/><text class="s" x="453.3" y="334">DDR0_DM1</text><text class="t" x="522.7" y="334">[4]</text></g>
<g id="B_DM3"><use class="k" href="#cr" x="442" y="343"/><text class="s" x="453.3" y="346">DDR0_DM3</text><text class="t" x="522.7" y="346">[4]</text></g>
<g id="B_DQS1P"><use class="k" href="#cr" x="442" y="366"/><text class="s" x="453.3" y="369">DDR0_DQS1P</text><text class="t" x="536.7" y="369">[4]</text></g>
<g id="B_DQS1M"><use class="k" href="#cr" x="442" y="377.3"/><text class="s" x="453.3" y="380">DDR0_DQS1M</text><text class="t" x="538.3" y="380">[4]</text></g>
<g id="B_DQS3P"><use class="k" href="#cr" x="442" y="400.3"/><text class="s" x="453.3" y="403">DDR0_DQS3P</text><text class="t" x="536.7" y="403">[4]</text></g>
<g id="B_DQS3M"><use class="k" href="#cr" x="442" y="412.3"/><text class="s" x="453.3" y="415">DDR0_DQS3M</text><text class="t" x="538.3" y="415">[4]</text></g>
<g id="B_VCC_DDR"><circle class="o" cx="226" cy="354.3" r="3.4"/><text class="ge" x="219" y="357">VCC_DDR</text></g>
<g id="B_VCC_DDRC"><circle class="o" cx="226" cy="470" r="3.4"/><text class="ge" x="219" y="473">VCC_DDRC</text></g>
<g id="B_VREFCA"><circle class="o" cx="226" cy="585" r="3.4"/><text class="ge" x="219" y="588">VREFCA_DDR0</text></g>
<g id="B_GND3"><path class="p" d="M442 712.3h24M447 716h14M451 720h5"/><text class="g" x="442" y="734">GND</text></g>
<g id="B_GND1"><use href="#gs" x="141.7" y="632"/><text class="ge" x="128" y="634.5">GND</text></g>
<g id="B_GND2"><use href="#gs" x="141.7" y="689.5"/><text class="ge" x="128" y="692">GND</text></g>
<g id="R515"><use class="z" href="#rz" x="188.5" y="632"/><text class="d" x="141.3" y="630">R515</text><text class="v" x="175.5" y="630">1</text><text class="d" x="188.5" y="630">240R/1%2</text><text class="v" x="245.3" y="630">R0201</text><text class="v" x="246" y="641">1%</text></g>
<g id="R506"><use class="z" href="#rz" x="188.5" y="689.5"/><text class="d" x="141.3" y="687.5">R506</text><text class="v" x="175.5" y="687.5">1</text><text class="d" x="188.5" y="687.5">240R/1%2</text><text class="v" x="245.3" y="687.5">R0201</text><text class="v" x="246" y="699">1%</text></g>
</g>
</g>

<g id="N_CLK"><text class="s" x="606" y="524">DDR0_CLK</text></g>
<g id="N_CLKN"><text class="s" x="606" y="547">DDR0_CLKN</text></g>
<g id="R508"><use class="z" href="#rz" x="719.5" y="527.3"/><text class="d" x="673" y="525.5">R508</text><text class="v" x="705.5" y="525.5">1</text><text class="v" x="763" y="525.5">2</text><text class="d" x="777.5" y="525.5">51R/NC</text><text class="v" x="673" y="537">R0201</text><text class="v" x="777.5" y="537">5%</text></g>
<g id="R510"><use class="z" href="#rz" x="719.5" y="551.3"/><text class="d" x="673" y="548.5">R510</text><text class="v" x="705.5" y="548.5">1</text><text class="v" x="763" y="548.5">2</text><text class="d" x="777.5" y="548.5">51R/NC</text><text class="v" x="673" y="560">R0201</text><text class="v" x="777.5" y="560">5%</text></g>
<g id="C639"><path class="z" d="M918.3 529V550M924.3 529V550" style="stroke:#00f"/><text class="d" x="869" y="538">C639</text><text class="v" x="903" y="538">1</text><text class="v" x="935" y="538">2</text><text class="d" x="950" y="538">/NC</text><text class="v" x="869" y="549.5">C0201</text></g>
<g id="GND_C"><path class="p" d="M985.7 527v25M990.3 531.5v16M994.7 535v8.5"/><path class="w" style="stroke:#333" d="M996.3 538v3"/><text class="g" x="997.5" y="542">GND</text></g>
</svg>
